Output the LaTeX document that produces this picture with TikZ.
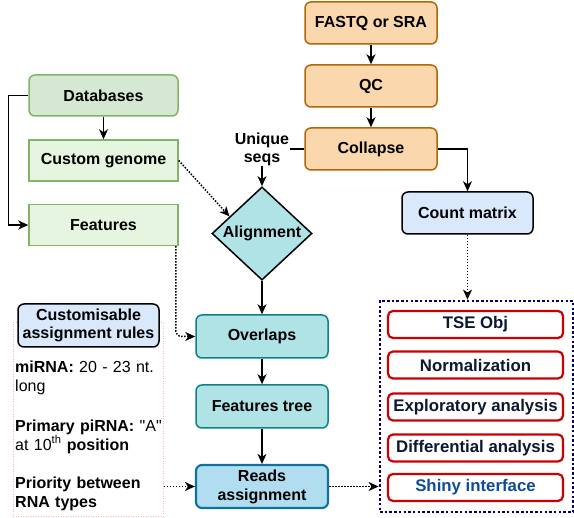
\documentclass[tikz,border=0pt]{standalone}
\usepackage{fontspec}
\setmainfont{Liberation Sans}[Ligatures=TeXOff]
\usetikzlibrary{arrows.meta,shapes.geometric,calc}
\definecolor{orfill}{HTML}{FAD7AC}
\definecolor{ordraw}{HTML}{B46504}
\definecolor{grfill}{HTML}{D5E8D4}
\definecolor{grlight}{HTML}{E5F5E0}
\definecolor{grdraw}{HTML}{82B366}
\definecolor{tlfill}{HTML}{B0E3E6}
\definecolor{tldraw}{HTML}{0E8088}
\definecolor{rdfill}{HTML}{B1DDF0}
\definecolor{rddraw}{HTML}{10739E}
\definecolor{blfill}{HTML}{DAE8FC}
\definecolor{redc}{HTML}{CC0000}
\definecolor{navy}{HTML}{000066}
\definecolor{darktext}{HTML}{0A1830}
\definecolor{shinytext}{HTML}{0F4C96}
\definecolor{pinkc}{HTML}{F2B8C6}
\begin{document}
\begin{tikzpicture}[x=1pt,y=-1pt,
  lbl/.style={font=\bfseries\fontsize{16}{18}\selectfont, align=center},
  box/.style={lbl, draw, line width=1.5pt, minimum width=132pt, minimum height=42pt, inner sep=0pt},
  orbox/.style={box, rounded corners=6pt, fill=orfill, draw=ordraw},
  dbbox/.style={box, rounded corners=6pt, fill=grfill, draw=grdraw, minimum width=149pt, minimum height=41pt},
  gnbox/.style={box, fill=grlight, draw=grdraw, minimum width=149pt, minimum height=41pt},
  tlbox/.style={box, rounded corners=6pt, fill=tlfill, draw=tldraw, minimum height=43pt},
  blbox/.style={box, rounded corners=6pt, fill=blfill, draw=black},
  anbox/.style={box, rounded corners=5pt, fill=white, draw=redc, line width=2.2pt, minimum width=175pt, minimum height=27pt, text=darktext, font=\bfseries\fontsize{16.8}{18}\selectfont},
  ruletext/.style={font=\fontsize{16}{19}\selectfont, align=left, anchor=west, inner sep=0pt, text width=150pt},
  arr/.style={-{Stealth[length=10pt,width=9pt,inset=3pt]}, line width=1.5pt},
  dotarr/.style={arr, dash pattern=on 1.5pt off 1.5pt},
]
\useasboundingbox (0,0) rectangle (574,518);

% right pipeline
\node[orbox] (fastq) at (371,23) {FASTQ or SRA};
\node[orbox] (qc) at (371,86) {QC};
\node[orbox] (collapse) at (371,149) {Collapse};
\node[blbox, minimum width=131pt] (count) at (467.5,213) {Count matrix};

% left databases
\node[dbbox] (db) at (103.5,95.5) {Databases};
\node[gnbox] (genome) at (103.5,160.5) {Custom genome};
\node[gnbox] (features) at (103.5,225) {Features};

% center
\node[diamond, draw=black, line width=1.5pt, fill=tlfill, minimum width=100pt, minimum height=93pt, inner sep=0pt, lbl] (align) at (262,233.5) {Alignment};
\node[tlbox] (overlaps) at (262,336.5) {Overlaps};
\node[tlbox] (ftree) at (262,406.5) {Features tree};
\node[box, rounded corners=6pt, fill=rdfill, draw=rddraw, line width=2.2pt, minimum height=43pt, font=\bfseries\fontsize{16}{19}\selectfont] (reads) at (262,486.5) {Reads\\assignment};

% rules
\node[draw=pinkc, line width=1pt, dash pattern=on 1pt off 1.5pt, minimum width=150pt, minimum height=194pt, inner sep=0pt] (rulesbg) at (88,420) {};
\node[blbox, minimum width=141pt, minimum height=43pt] (rules) at (88.5,325.5) {Customisable\\assignment rules};
\node[ruletext] (r1) at (15,377.5) {\textbf{miRNA:} 20 - 23 nt.\\long};
\node[ruletext] (r2) at (15,436.5) {\textbf{Primary piRNA:} "A"\\at 10\textsuperscript{th} \textbf{position}};
\node[ruletext] (r3) at (15,493.5) {\textbf{Priority between}\\\textbf{RNA types}};

% analysis group
\node[draw=navy, line width=2.8pt, dash pattern=on 2.5pt off 2.2pt, minimum width=193pt, minimum height=211pt, inner sep=0pt] (analysis) at (476.5,406.5) {};
\node[anbox] (tse) at (475.5,324.5) {TSE Obj};
\node[anbox] (norm) at (475.5,365) {Normalization};
\node[anbox] (explo) at (475.5,407) {Exploratory analysis};
\node[anbox] (diff) at (475.5,448) {Differential analysis};
\node[anbox, text=shinytext] (shiny) at (475.5,487.5) {Shiny interface};

% connectors
\draw[arr] (fastq) -- (qc);
\draw[arr] (qc) -- (collapse);
\draw[arr] (collapse.east) -| (count.north);
\draw[arr] (collapse.west) -| (align.north)
  node[pos=0.5, fill=white, inner sep=1pt, lbl] {Unique\\seqs};
\draw[arr] (db) -- (genome);
\draw[arr] (db.west) -- ++(-20,0) |- (features.west);
\draw[dotarr] (genome.east) -- ($(align.west)!0.36!(align.north)$);
\draw[dotarr, rounded corners=6pt] ([xshift=-3pt]features.south east) |- (overlaps.west);
\draw[arr] (align) -- (overlaps);
\draw[arr] (overlaps) -- (ftree);
\draw[arr] (ftree) -- (reads);
\draw[dotarr] (rulesbg.east |- reads.west) -- (reads.west);
\draw[dotarr] (reads.east) -- (analysis.west |- reads.east);
\draw[dotarr] (count.south) -- (count.south |- analysis.north);
\end{tikzpicture}
\end{document}
